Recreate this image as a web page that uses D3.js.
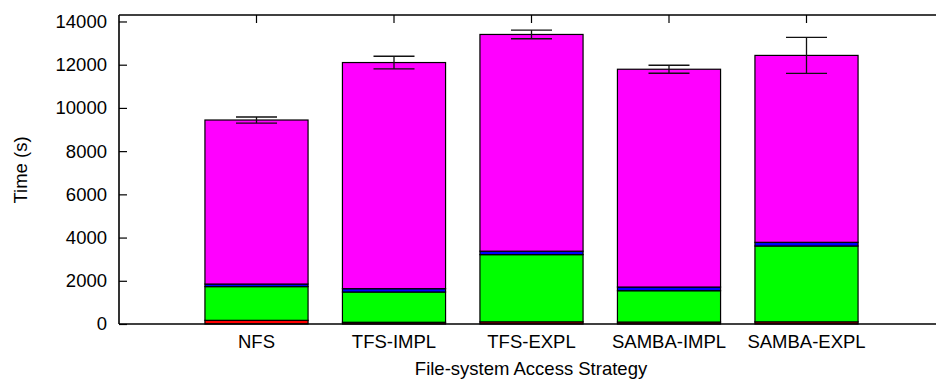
<!DOCTYPE html>
<html>
<head>
<meta charset="utf-8">
<script src="https://cdn.jsdelivr.net/npm/d3@7/dist/d3.min.js"></script>
<style>
  html, body { margin: 0; padding: 0; background: #fff; }
  svg { display: block; }
  text { font-family: "Liberation Sans", Arial, sans-serif; fill: #000; }
</style>
</head>
<body>
<svg id="chart" width="936" height="379"></svg>
<script>
// Access strategies along the x axis
const categories = ["NFS", "TFS-IMPL", "TFS-EXPL", "SAMBA-IMPL", "SAMBA-EXPL"];

// Time spent in each phase (seconds), stacked bottom to top
const phaseSetup   = [170, 80, 100, 90, 100];
const phaseStage   = [1560, 1400, 3110, 1450, 3510];
const phaseSync    = [120, 155, 160, 170, 170];
const phaseCompute = [7590, 10465, 10030, 10080, 8650];

// Spread of the total time (seconds)
const totalError = [140, 290, 200, 185, 830];

// Y-axis ticks
const yTicks = [0, 2000, 4000, 6000, 8000, 10000, 12000, 14000];

const phaseKeys = ["setup", "stage", "sync", "compute"];
const phaseColors = ["#ff0000", "#00ff00", "#0000ff", "#ff00ff"];

const W = 936, H = 379;
const plotLeft = 119, plotTop = 15, plotBottom = 324;
const fontSize = 18.5;

const rows = categories.map((c, i) => ({
  name: c,
  setup: phaseSetup[i],
  stage: phaseStage[i],
  sync: phaseSync[i],
  compute: phaseCompute[i],
  err: totalError[i]
}));

const stacked = d3.stack().keys(phaseKeys)(rows);

const x = d3.scaleBand()
  .domain(categories)
  .range([187.75, 875.25])
  .paddingInner(0.25)
  .paddingOuter(0.125);

const y = d3.scaleLinear().domain([0, 14300]).range([plotBottom, plotTop]);

const svg = d3.select("#chart");

// Stacked bars
stacked.forEach((layer, li) => {
  svg.append("g")
    .selectAll("rect")
    .data(layer)
    .join("rect")
    .attr("x", d => x(d.data.name))
    .attr("width", x.bandwidth())
    .attr("y", d => y(d[1]))
    .attr("height", d => y(d[0]) - y(d[1]))
    .attr("fill", phaseColors[li])
    .attr("stroke", "#000")
    .attr("stroke-width", 1.2);
});

// Error bars on the totals
const totals = rows.map(r => r.setup + r.stage + r.sync + r.compute);
const eb = svg.append("g").attr("stroke", "#111").attr("stroke-width", 1.3);
const cx = d => x(d.name) + x.bandwidth() / 2;
const capHalf = 20.5;
eb.selectAll("line.v").data(rows).join("line").attr("class", "v")
  .attr("x1", cx).attr("x2", cx)
  .attr("y1", (d, i) => y(totals[i] + d.err))
  .attr("y2", (d, i) => y(totals[i] - d.err));
eb.selectAll("line.t").data(rows).join("line").attr("class", "t")
  .attr("x1", d => cx(d) - capHalf).attr("x2", d => cx(d) + capHalf)
  .attr("y1", (d, i) => y(totals[i] + d.err))
  .attr("y2", (d, i) => y(totals[i] + d.err));
eb.selectAll("line.b").data(rows).join("line").attr("class", "b")
  .attr("x1", d => cx(d) - capHalf).attr("x2", d => cx(d) + capHalf)
  .attr("y1", (d, i) => y(totals[i] - d.err))
  .attr("y2", (d, i) => y(totals[i] - d.err));

// Frame (top, left, bottom)
const frame = svg.append("g").attr("stroke", "#000").attr("stroke-width", 1.6).attr("fill", "none");
frame.append("line").attr("x1", plotLeft).attr("x2", W).attr("y1", plotTop).attr("y2", plotTop);
frame.append("line").attr("x1", plotLeft).attr("x2", W).attr("y1", plotBottom).attr("y2", plotBottom);
frame.append("line").attr("x1", plotLeft).attr("x2", plotLeft).attr("y1", plotTop).attr("y2", plotBottom);

// Y axis
const yAxis = d3.axisLeft(y).tickValues(yTicks).tickSizeInner(-8).tickSizeOuter(0).tickPadding(12)
  .tickFormat(d3.format("d"));
const gy = svg.append("g").attr("transform", `translate(${plotLeft},0)`).call(yAxis);
gy.select(".domain").remove();
gy.selectAll(".tick line").attr("stroke", "#000").attr("stroke-width", 1.2);
gy.selectAll(".tick text").attr("font-size", fontSize).attr("fill", "#000");

// Mirrored category ticks on the top edge
const xTop = d3.axisTop(x).tickSizeInner(-8).tickSizeOuter(0).tickFormat("");
const gt = svg.append("g").attr("transform", `translate(0,${plotTop})`).call(xTop);
gt.select(".domain").remove();
gt.selectAll(".tick line").attr("stroke", "#000").attr("stroke-width", 1.2);

// Category labels
const xAxis = d3.axisBottom(x).tickSize(0).tickPadding(11);
const gx = svg.append("g").attr("transform", `translate(0,${plotBottom})`).call(xAxis);
gx.select(".domain").remove();
gx.selectAll(".tick text").attr("font-size", fontSize).attr("fill", "#000");

// Axis titles
svg.append("text")
  .attr("x", 531).attr("y", 375)
  .attr("text-anchor", "middle")
  .attr("font-size", fontSize)
  .text("File-system Access Strategy");

svg.append("text")
  .attr("transform", "translate(27,170) rotate(-90)")
  .attr("text-anchor", "middle")
  .attr("font-size", fontSize)
  .text("Time (s)");
</script>
</body>
</html>
